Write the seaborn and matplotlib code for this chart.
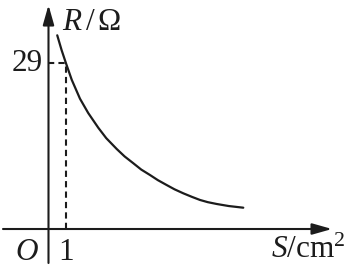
import matplotlib
matplotlib.use("Agg")
import matplotlib.pyplot as plt
import seaborn as sns
import pandas as pd

# Data
S_values = [0.50, 0.75, 1.00, 1.33, 1.80, 2.27, 2.85, 3.30, 3.90, 4.35, 4.85, 5.30, 5.80, 6.25, 6.75, 7.20, 7.70, 8.20, 8.66, 9.10, 9.61, 10.30, 11.13]
R_values = [33.9, 31.3, 29.0, 26.1, 22.8, 20.3, 17.7, 15.9, 14.0, 12.7, 11.5, 10.4, 9.45, 8.55, 7.7, 6.95, 6.25, 5.62, 5.08, 4.70, 4.38, 4.02, 3.73]
marked_S = 1
marked_R = 29
tick_labels = {"x": "1", "y": "29", "origin": "O"}

sns.set_theme(style="white")
plt.rcParams["font.family"] = ["Liberation Serif", "DejaVu Serif"]
plt.rcParams["mathtext.fontset"] = "custom"
plt.rcParams["mathtext.rm"] = "Liberation Serif"
plt.rcParams["mathtext.it"] = "Liberation Serif:italic"

ink = "#1c1c1c"
fig = plt.figure(figsize=(3.44, 2.67), dpi=100)
fig.patch.set_facecolor("white")
ax = fig.add_axes([0, 0, 1, 1])
ax.set_xlim(-2.771, 16.886)
ax.set_ylim(-6.65, 40.08)
ax.axis("off")

df = pd.DataFrame({"S": S_values, "R": R_values})
sns.lineplot(data=df, x="S", y="R", ax=ax, color=ink, lw=1.6, sort=True)
for ln in ax.lines:
    ln.set_solid_joinstyle("round")

# axes with arrows
arrow = dict(arrowstyle="-|>,head_length=0.6,head_width=0.17", lw=1.5, color=ink,
             shrinkA=0, shrinkB=0, mutation_scale=20)
ax.annotate("", xy=(16.2, 0), xytext=(-2.6, 0), arrowprops=arrow)
ax.annotate("", xy=(0, 39.2), xytext=(0, -5.95), arrowprops=arrow)

# dashed guides
ax.plot([marked_S, marked_S], [0, marked_R], ls=(0, (3, 2)), lw=1.5, color=ink)
ax.plot([0, marked_S], [marked_R, marked_R], ls=(0, (3, 2)), lw=1.5, color=ink)

fs = 22.5
ax.text(-0.3, marked_R, tick_labels["y"], ha="right", va="center", fontsize=fs, color=ink)
ax.text(marked_S, -1.5, tick_labels["x"], ha="center", va="top", fontsize=fs, color=ink)
ax.text(-0.6, -1.5, tick_labels["origin"], ha="right", va="top", fontsize=fs, color=ink, style="italic")
ax.text(0.75, 34.9, r"$R\,/\,\Omega$", ha="left", va="baseline", fontsize=fs, color=ink)
ax.text(16.95, -5.1, r"$S/\mathrm{cm}^2$", ha="right", va="baseline", fontsize=fs, color=ink)

fig.savefig("out.png", dpi=100, facecolor="white")
